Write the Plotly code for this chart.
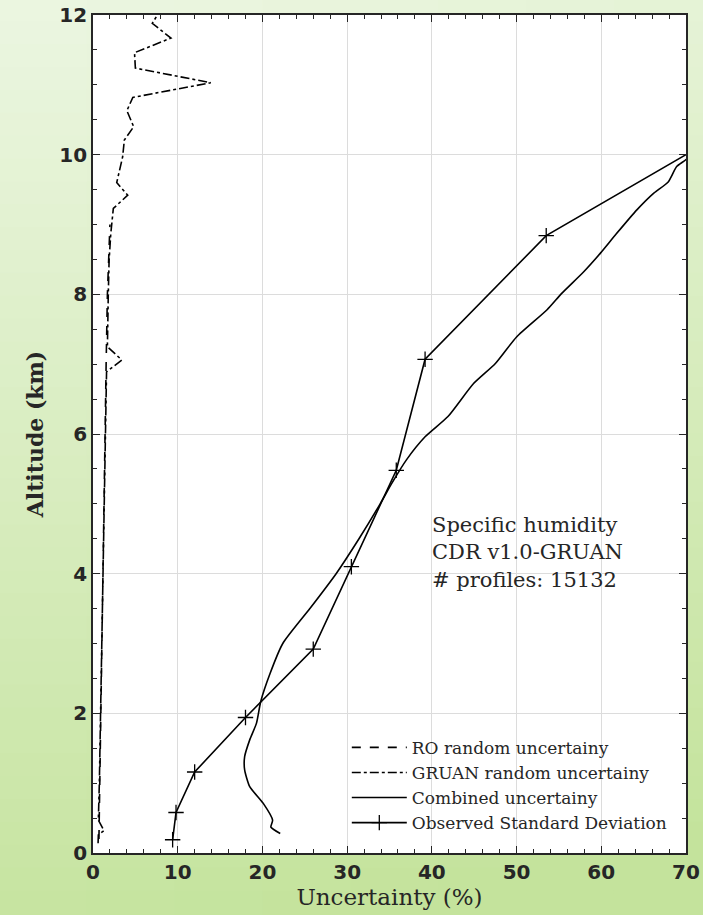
import plotly.graph_objects as go

# ---------------- data ----------------
gruan_alt = [0.14, 0.26, 0.32, 0.47, 1.0, 2.0, 3.05, 4.0, 5.0, 5.8, 6.0, 6.89, 7.06, 7.25,
             7.97, 8.49, 8.87, 9.23, 9.42, 9.60, 9.97, 10.21, 10.40, 10.63, 10.82, 11.03,
             11.24, 11.46, 11.67, 11.88, 12.0]
gruan_val = [0.6, 0.63, 1.3, 0.63, 0.75, 0.9, 1.05, 1.15, 1.3, 1.4, 1.5, 1.6, 3.4, 1.7,
             1.8, 1.9, 2.1, 2.4, 4.1, 2.8, 3.5, 3.7, 4.8, 4.0, 4.7, 13.9,
             5.0, 4.9, 9.2, 7.0, 7.6]

ro_alt = [0.2, 1.0, 2.0, 3.0, 4.0, 5.0, 6.0, 7.0, 8.0, 9.0]
ro_val = [0.7, 0.8, 0.9, 1.0, 1.1, 1.25, 1.4, 1.55, 1.7, 2.0]

comb_alt = [0.28, 0.37, 0.47, 0.71, 0.95, 1.19, 1.38, 1.62, 1.86, 2.17, 2.57, 3.0, 3.5,
            4.0, 4.5, 5.0, 5.3, 5.63, 5.96, 6.25, 6.72, 7.01, 7.39, 7.78, 8.01, 8.32,
            8.59, 8.87, 9.21, 9.45, 9.61, 9.83, 9.92, 10.05]
comb_val = [22.1, 21.0, 21.2, 20.1, 18.5, 17.9, 17.9, 18.5, 19.3, 19.8, 20.9, 22.4, 25.6,
            28.7, 31.4, 33.9, 35.3, 37.0, 39.2, 41.9, 44.9, 47.5, 50.0, 53.6, 55.3, 57.9,
            59.9, 61.8, 64.2, 66.2, 67.9, 68.9, 69.9, 71.0]

std_alt = [0.19, 0.58, 1.16, 1.94, 2.92, 4.10, 5.48, 7.07, 8.84, 10.81]
std_val = [9.4, 9.8, 12.0, 18.0, 26.0, 30.5, 35.8, 39.2, 53.5, 81.5]

x_ticks = [0, 10, 20, 30, 40, 50, 60, 70]
y_ticks = [0, 2, 4, 6, 8, 10, 12]
info_lines = ["Specific humidity", "CDR v1.0-GRUAN", "# profiles: 15132"]

# ---------------- figure ----------------
W, H = 703, 915
ml, mr, mt, mb = 93, 17, 15, 62
pw, ph = W - ml - mr, H - mt - mb

fig = go.Figure()
fig.add_trace(go.Scatter(x=ro_val, y=ro_alt, mode="lines", name="RO random uncertainy",
                         line=dict(color="black", width=1.6, dash="dash")))
fig.add_trace(go.Scatter(x=gruan_val, y=gruan_alt, mode="lines", name="GRUAN random uncertainy",
                         line=dict(color="black", width=1.6, dash="dashdot")))
fig.add_trace(go.Scatter(x=comb_val, y=comb_alt, mode="lines", name="Combined uncertainy",
                         line=dict(color="black", width=1.6, shape="spline", smoothing=0.6)))
fig.add_trace(go.Scatter(x=std_val, y=std_alt, mode="lines+markers", name="Observed Standard Deviation",
                         line=dict(color="black", width=1.6),
                         marker=dict(symbol="cross-thin", size=11, color="black",
                                     line=dict(color="black", width=1.3))))

# background gradient (paper coordinates, covering whole page), light top-left -> green bottom-right
top = (236, 246, 226)
bot = (196, 227, 156)
nx, ny = 8, 40
x0p, x1p = -ml / pw, (pw + mr) / pw
y0p, y1p = -mb / ph, (ph + mt) / ph
shapes = []
for j in range(nx):
    for i in range(ny):
        u = (j + 0.5) / nx
        v = (i + 0.5) / ny
        t = min(1.0, (0.85 * v + 0.15 * u) / 0.92)
        c = tuple(round(top[k] + (bot[k] - top[k]) * t) for k in range(3))
        ya = y1p - (y1p - y0p) * i / ny
        yb = y1p - (y1p - y0p) * (i + 1) / ny
        xa = x0p + (x1p - x0p) * j / nx
        xb = x0p + (x1p - x0p) * (j + 1) / nx
        shapes.append(dict(type="rect", xref="paper", yref="paper", x0=xa - 0.002, x1=xb + 0.002,
                           y0=yb - 0.002, y1=ya + 0.002, fillcolor="rgb(%d,%d,%d)" % c,
                           line=dict(width=0), layer="below"))
shapes.append(dict(type="rect", xref="x domain", yref="y domain", x0=0, x1=1, y0=0, y1=1,
                   fillcolor="white", line=dict(width=0), layer="below"))

axis_common = dict(
    automargin=False,
    showline=True, linecolor="#262626", linewidth=1.8, mirror="ticks",
    ticks="inside", ticklen=7, tickwidth=1.3, tickcolor="#262626",
    showgrid=True, gridcolor="#dcdcdc", gridwidth=1, zeroline=False,
    tickfont=dict(family="DejaVu Sans", size=20, color="#262626", weight="bold"),
)

fig.update_layout(
    width=W, height=H,
    margin=dict(l=ml, r=mr, t=mt, b=mb, autoexpand=False),
    paper_bgcolor="#d8ecc0", plot_bgcolor="white",
    shapes=shapes,
    showlegend=True,
    legend=dict(x=0.428, y=0.147, xanchor="left", yanchor="top",
                bgcolor="rgba(0,0,0,0)", itemwidth=55, tracegroupgap=0,
                font=dict(family="DejaVu Serif", size=17, color="#262626")),
    xaxis=dict(range=[0, 70], tickvals=x_ticks, ticktext=[str(v) for v in x_ticks],
               minor=dict(dtick=2, ticks="inside", ticklen=4, tickcolor="#262626", showgrid=False),
               title=dict(text="Uncertainty (%)", standoff=2,
                          font=dict(family="DejaVu Serif", size=23, color="#262626")),
               **axis_common),
    yaxis=dict(range=[0, 12], tickvals=y_ticks, ticktext=[str(v) for v in y_ticks],
               minor=dict(dtick=0.5, ticks="inside", ticklen=4, tickcolor="#262626", showgrid=False),
               title=dict(text="Altitude (km)", standoff=10,
                          font=dict(family="DejaVu Serif", size=22, color="#262626", weight="bold")),
               **axis_common),
    annotations=[dict(x=39.75, y=4.9, xref="x", yref="y", xanchor="left", yanchor="top",
                      text="<br>".join(info_lines), showarrow=False, align="left",
                      font=dict(family="DejaVu Serif", size=21, color="#262626"))],
)

fig.write_html("out.html")
